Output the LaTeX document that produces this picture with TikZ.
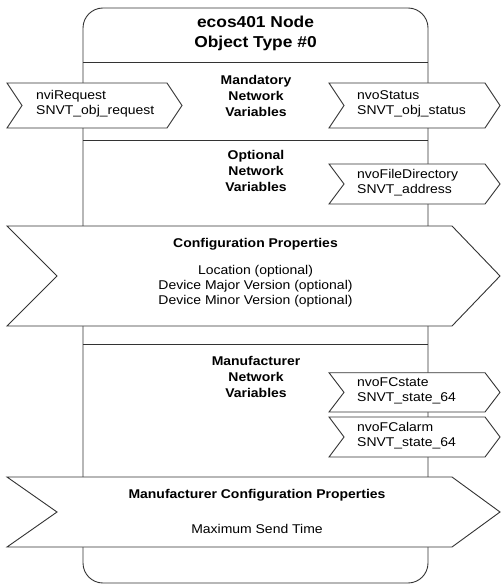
\documentclass[tikz,border=0pt]{standalone}
\usepackage{fontspec}
\setmainfont{Liberation Sans}[FakeStretch=1.1]
\usetikzlibrary{positioning}

\definecolor{linegray}{HTML}{333333}

\tikzset{
  frame/.style={draw=linegray, line width=0.9pt},
  flag/.style={draw=linegray, fill=white, line width=0.9pt},
  txt/.style={font=\fontsize{12.7}{15.2}\selectfont, align=left, inner sep=0pt},
  head/.style={font=\fontsize{12.7}{16}\selectfont\bfseries, align=center, inner sep=0pt},
  title/.style={font=\fontsize{15.8}{20}\selectfont\bfseries, align=center, inner sep=0pt},
}

\begin{document}
\begin{tikzpicture}[x=1pt,y=-1pt]
\useasboundingbox (0,0) rectangle (501,585);

% node frame and its dividers
\draw[frame, rounded corners=20pt] (83,8) rectangle (428,583);
\draw[frame] (83,62.7) -- (428,62.7);
\draw[frame] (83,140) -- (428,140);
\draw[frame] (83,344) -- (428,344);

\node[title] (nodetitle) at (255.5,33) {ecos401 Node\\Object Type \#0};

% section headings
\node[head] (mandnv) at (256,96) {Mandatory\\Network\\Variables};
\node[head] (optnv) at (256,171) {Optional\\Network\\Variables};
\node[head] (mfrnv) at (256,377) {Manufacturer\\Network\\Variables};

% input variable on the left
\draw[flag] (7,83) -- (167,83) -- (182,105.5) -- (167,128) -- (7,128) -- (22,105.5) -- cycle;
\node[txt, anchor=west] (nvireq) at (36,104) {nviRequest\\SNVT\_obj\_request};

% output variables on the right
\foreach \top/\bot/\id/\lbl in {83/128/nvostat/{nvoStatus\\SNVT\_obj\_status},
  164/204/nvofile/{nvoFileDirectory\\SNVT\_address},
  372.7/412/nvofcs/{nvoFCstate\\SNVT\_state\_64},
  417/457/nvofca/{nvoFCalarm\\SNVT\_state\_64}} {
\draw[flag] (329,\top) -- (485,\top) -- (500,{(\top+\bot)/2}) -- (485,\bot) -- (329,\bot) -- (344,{(\top+\bot)/2}) -- cycle;
\node[txt, anchor=west] (\id) at (357,{(\top+\bot)/2-1.5}) {\lbl};
}

% configuration properties
\draw[flag] (7,226) -- (452,226) -- (500,276) -- (452,326) -- (7,326) -- (57,276) -- cycle;
\node[head] (cfghead) at (255.5,244) {Configuration Properties};
\node[txt, align=center, below=21pt of cfghead.center, anchor=north] (cfglist)
  {Location (optional)\\Device Major Version (optional)\\Device Minor Version (optional)};

% manufacturer configuration properties
\draw[flag] (7,477) -- (452,477) -- (500,512) -- (452,547) -- (7,547) -- (57,512) -- cycle;
\node[head] (mfrhead) at (257,495) {Manufacturer Configuration Properties};
\node[txt, align=center] (mfrlist) at (257,529) {Maximum Send Time};

\end{tikzpicture}
\end{document}
